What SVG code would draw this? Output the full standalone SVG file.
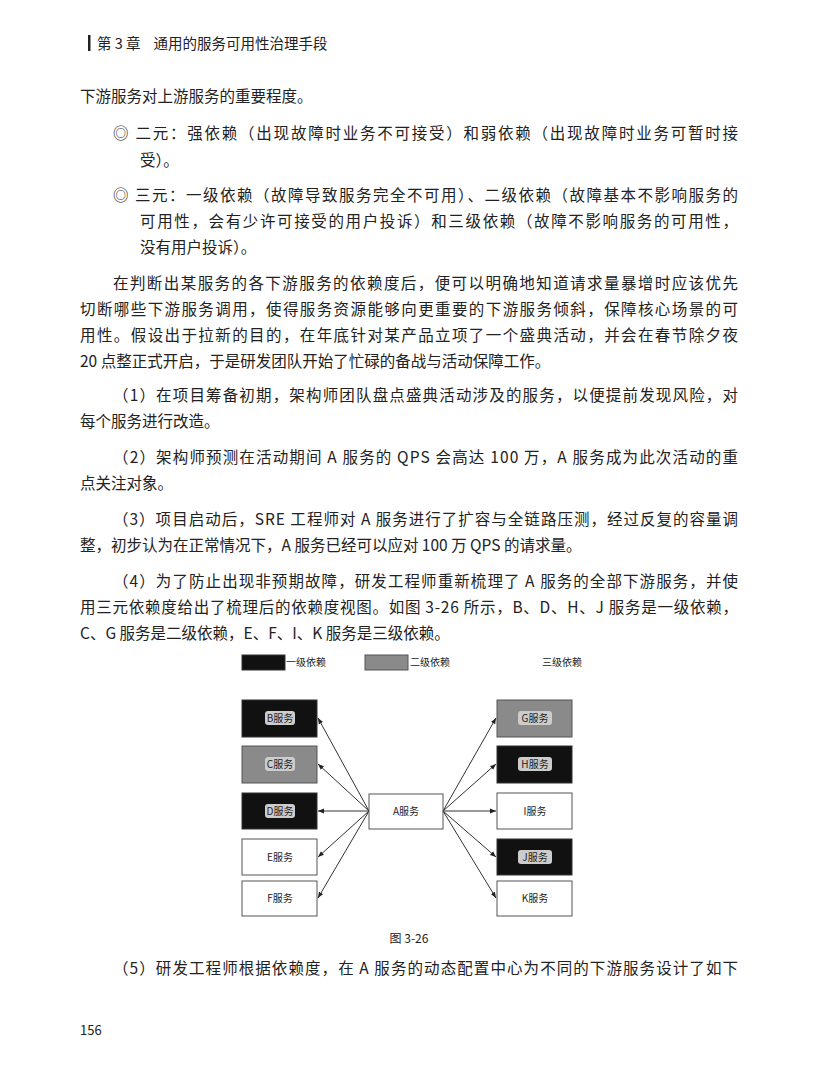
<svg xmlns="http://www.w3.org/2000/svg" width="818" height="1077" viewBox="0 0 818 1077">
<style>
.t{font-family:"Noto Sans CJK SC",sans-serif;font-size:15.5px;fill:#222}
.d{font-family:"Noto Sans CJK SC",sans-serif;font-size:10px;fill:#222;text-anchor:middle}
.bk{fill:#111;stroke:#333}
.gr{fill:#8a8a8a;stroke:#555}
.wh{fill:#fff;stroke:#555}
.p{fill:#ccc}
.c{stroke:#333;stroke-width:1;marker-end:url(#a)}
</style>
<defs><marker id="a" viewBox="0 0 10 10" refX="10" refY="5" markerWidth="6" markerHeight="6" orient="auto"><path d="M0,1 L10,5 L0,9 z" fill="#222"/></marker></defs>
<rect width="818" height="1077" fill="#fff"/>
<rect x="88" y="35" width="2.5" height="16" fill="#222"/>
<text class="t" x="97" y="49" style="font-size:14.5px" xml:space="preserve">第 3 章    通用的服务可用性治理手段</text>
<text class="t" x="80" y="102">下游服务对上游服务的重要程度。</text>
<text class="t" x="113" y="139" textLength="625" lengthAdjust="spacing">◎ 二元：强依赖（出现故障时业务不可接受）和弱依赖（出现故障时业务可暂时接</text>
<text class="t" x="140" y="166">受）。</text>
<text class="t" x="113" y="201" textLength="625" lengthAdjust="spacing">◎ 三元：一级依赖（故障导致服务完全不可用）、二级依赖（故障基本不影响服务的</text>
<text class="t" x="140" y="227" textLength="598" lengthAdjust="spacing">可用性，会有少许可接受的用户投诉）和三级依赖（故障不影响服务的可用性，</text>
<text class="t" x="140" y="253">没有用户投诉）。</text>
<text class="t" x="113" y="289" textLength="625" lengthAdjust="spacing">在判断出某服务的各下游服务的依赖度后，便可以明确地知道请求量暴增时应该优先</text>
<text class="t" x="80" y="315" textLength="658" lengthAdjust="spacing">切断哪些下游服务调用，使得服务资源能够向更重要的下游服务倾斜，保障核心场景的可</text>
<text class="t" x="80" y="341" textLength="658" lengthAdjust="spacing">用性。假设出于拉新的目的，在年底针对某产品立项了一个盛典活动，并会在春节除夕夜</text>
<text class="t" x="80" y="367">20 点整正式开启，于是研发团队开始了忙碌的备战与活动保障工作。</text>
<text class="t" x="113" y="401" textLength="625" lengthAdjust="spacing">（1）在项目筹备初期，架构师团队盘点盛典活动涉及的服务，以便提前发现风险，对</text>
<text class="t" x="80" y="427">每个服务进行改造。</text>
<text class="t" x="113" y="463" textLength="625" lengthAdjust="spacing">（2）架构师预测在活动期间 A 服务的 QPS 会高达 100 万，A 服务成为此次活动的重</text>
<text class="t" x="80" y="489">点关注对象。</text>
<text class="t" x="113" y="525" textLength="625" lengthAdjust="spacing">（3）项目启动后，SRE 工程师对 A 服务进行了扩容与全链路压测，经过反复的容量调</text>
<text class="t" x="80" y="551">整，初步认为在正常情况下，A 服务已经可以应对 100 万 QPS 的请求量。</text>
<text class="t" x="113" y="587" textLength="625" lengthAdjust="spacing">（4）为了防止出现非预期故障，研发工程师重新梳理了 A 服务的全部下游服务，并使</text>
<text class="t" x="80" y="613" textLength="658" lengthAdjust="spacing">用三元依赖度给出了梳理后的依赖度视图。如图 3-26 所示，B、D、H、J 服务是一级依赖，</text>
<text class="t" x="80" y="639">C、G 服务是二级依赖，E、F、I、K 服务是三级依赖。</text>

<g id="legend">
<rect class="bk" x="242" y="655" width="43" height="15"/><text class="d" x="306" y="666">一级依赖</text>
<rect class="gr" x="365" y="655" width="43" height="15"/><text class="d" x="430" y="666">二级依赖</text>
<text class="d" x="562" y="666">三级依赖</text>
</g>
<g id="connectors">
<line class="c" x1="369" y1="811" x2="318" y2="718"/>
<line class="c" x1="369" y1="811" x2="318" y2="764"/>
<line class="c" x1="369" y1="811" x2="318" y2="811"/>
<line class="c" x1="369" y1="811" x2="318" y2="857"/>
<line class="c" x1="369" y1="811" x2="318" y2="898"/>
<line class="c" x1="443" y1="811" x2="496" y2="718"/>
<line class="c" x1="443" y1="811" x2="496" y2="764"/>
<line class="c" x1="443" y1="811" x2="496" y2="811"/>
<line class="c" x1="443" y1="811" x2="496" y2="857"/>
<line class="c" x1="443" y1="811" x2="496" y2="898"/>
</g>
<g id="A"><rect class="wh" x="369" y="794" width="74" height="35"/><text class="d" x="406" y="815">A服务</text></g>
<g id="B"><rect class="bk" x="242" y="700" width="75" height="37"/><rect class="p" x="265" y="711" width="30" height="14" rx="3"/><text class="d" x="280" y="722">B服务</text></g>
<g id="C"><rect class="gr" x="242" y="746" width="75" height="37"/><rect class="p" x="265" y="757" width="30" height="14" rx="3"/><text class="d" x="280" y="768">C服务</text></g>
<g id="D"><rect class="bk" x="242" y="793" width="75" height="36"/><rect class="p" x="265" y="804" width="30" height="14" rx="3"/><text class="d" x="280" y="815">D服务</text></g>
<g id="E"><rect class="wh" x="242" y="839" width="75" height="36"/><text class="d" x="280" y="861">E服务</text></g>
<g id="F"><rect class="wh" x="242" y="881" width="75" height="35"/><text class="d" x="280" y="902">F服务</text></g>
<g id="G"><rect class="gr" x="497" y="700" width="75" height="37"/><rect class="p" x="518" y="711" width="34" height="14" rx="3"/><text class="d" x="535" y="722">G服务</text></g>
<g id="H"><rect class="bk" x="497" y="746" width="75" height="37"/><rect class="p" x="518" y="757" width="34" height="14" rx="3"/><text class="d" x="535" y="768">H服务</text></g>
<g id="I"><rect class="wh" x="497" y="793" width="75" height="36"/><text class="d" x="535" y="815">I服务</text></g>
<g id="J"><rect class="bk" x="497" y="839" width="75" height="36"/><rect class="p" x="518" y="850" width="34" height="14" rx="3"/><text class="d" x="535" y="861">J服务</text></g>
<g id="K"><rect class="wh" x="497" y="881" width="75" height="35"/><text class="d" x="535" y="902">K服务</text></g>

<text class="t" x="409" y="943" style="font-size:12px;text-anchor:middle">图 3-26</text>
<text class="t" x="113" y="974" textLength="625" lengthAdjust="spacing">（5）研发工程师根据依赖度，在 A 服务的动态配置中心为不同的下游服务设计了如下</text>
<text class="t" x="80" y="1035" style="font-size:13px">156</text>
</svg>
